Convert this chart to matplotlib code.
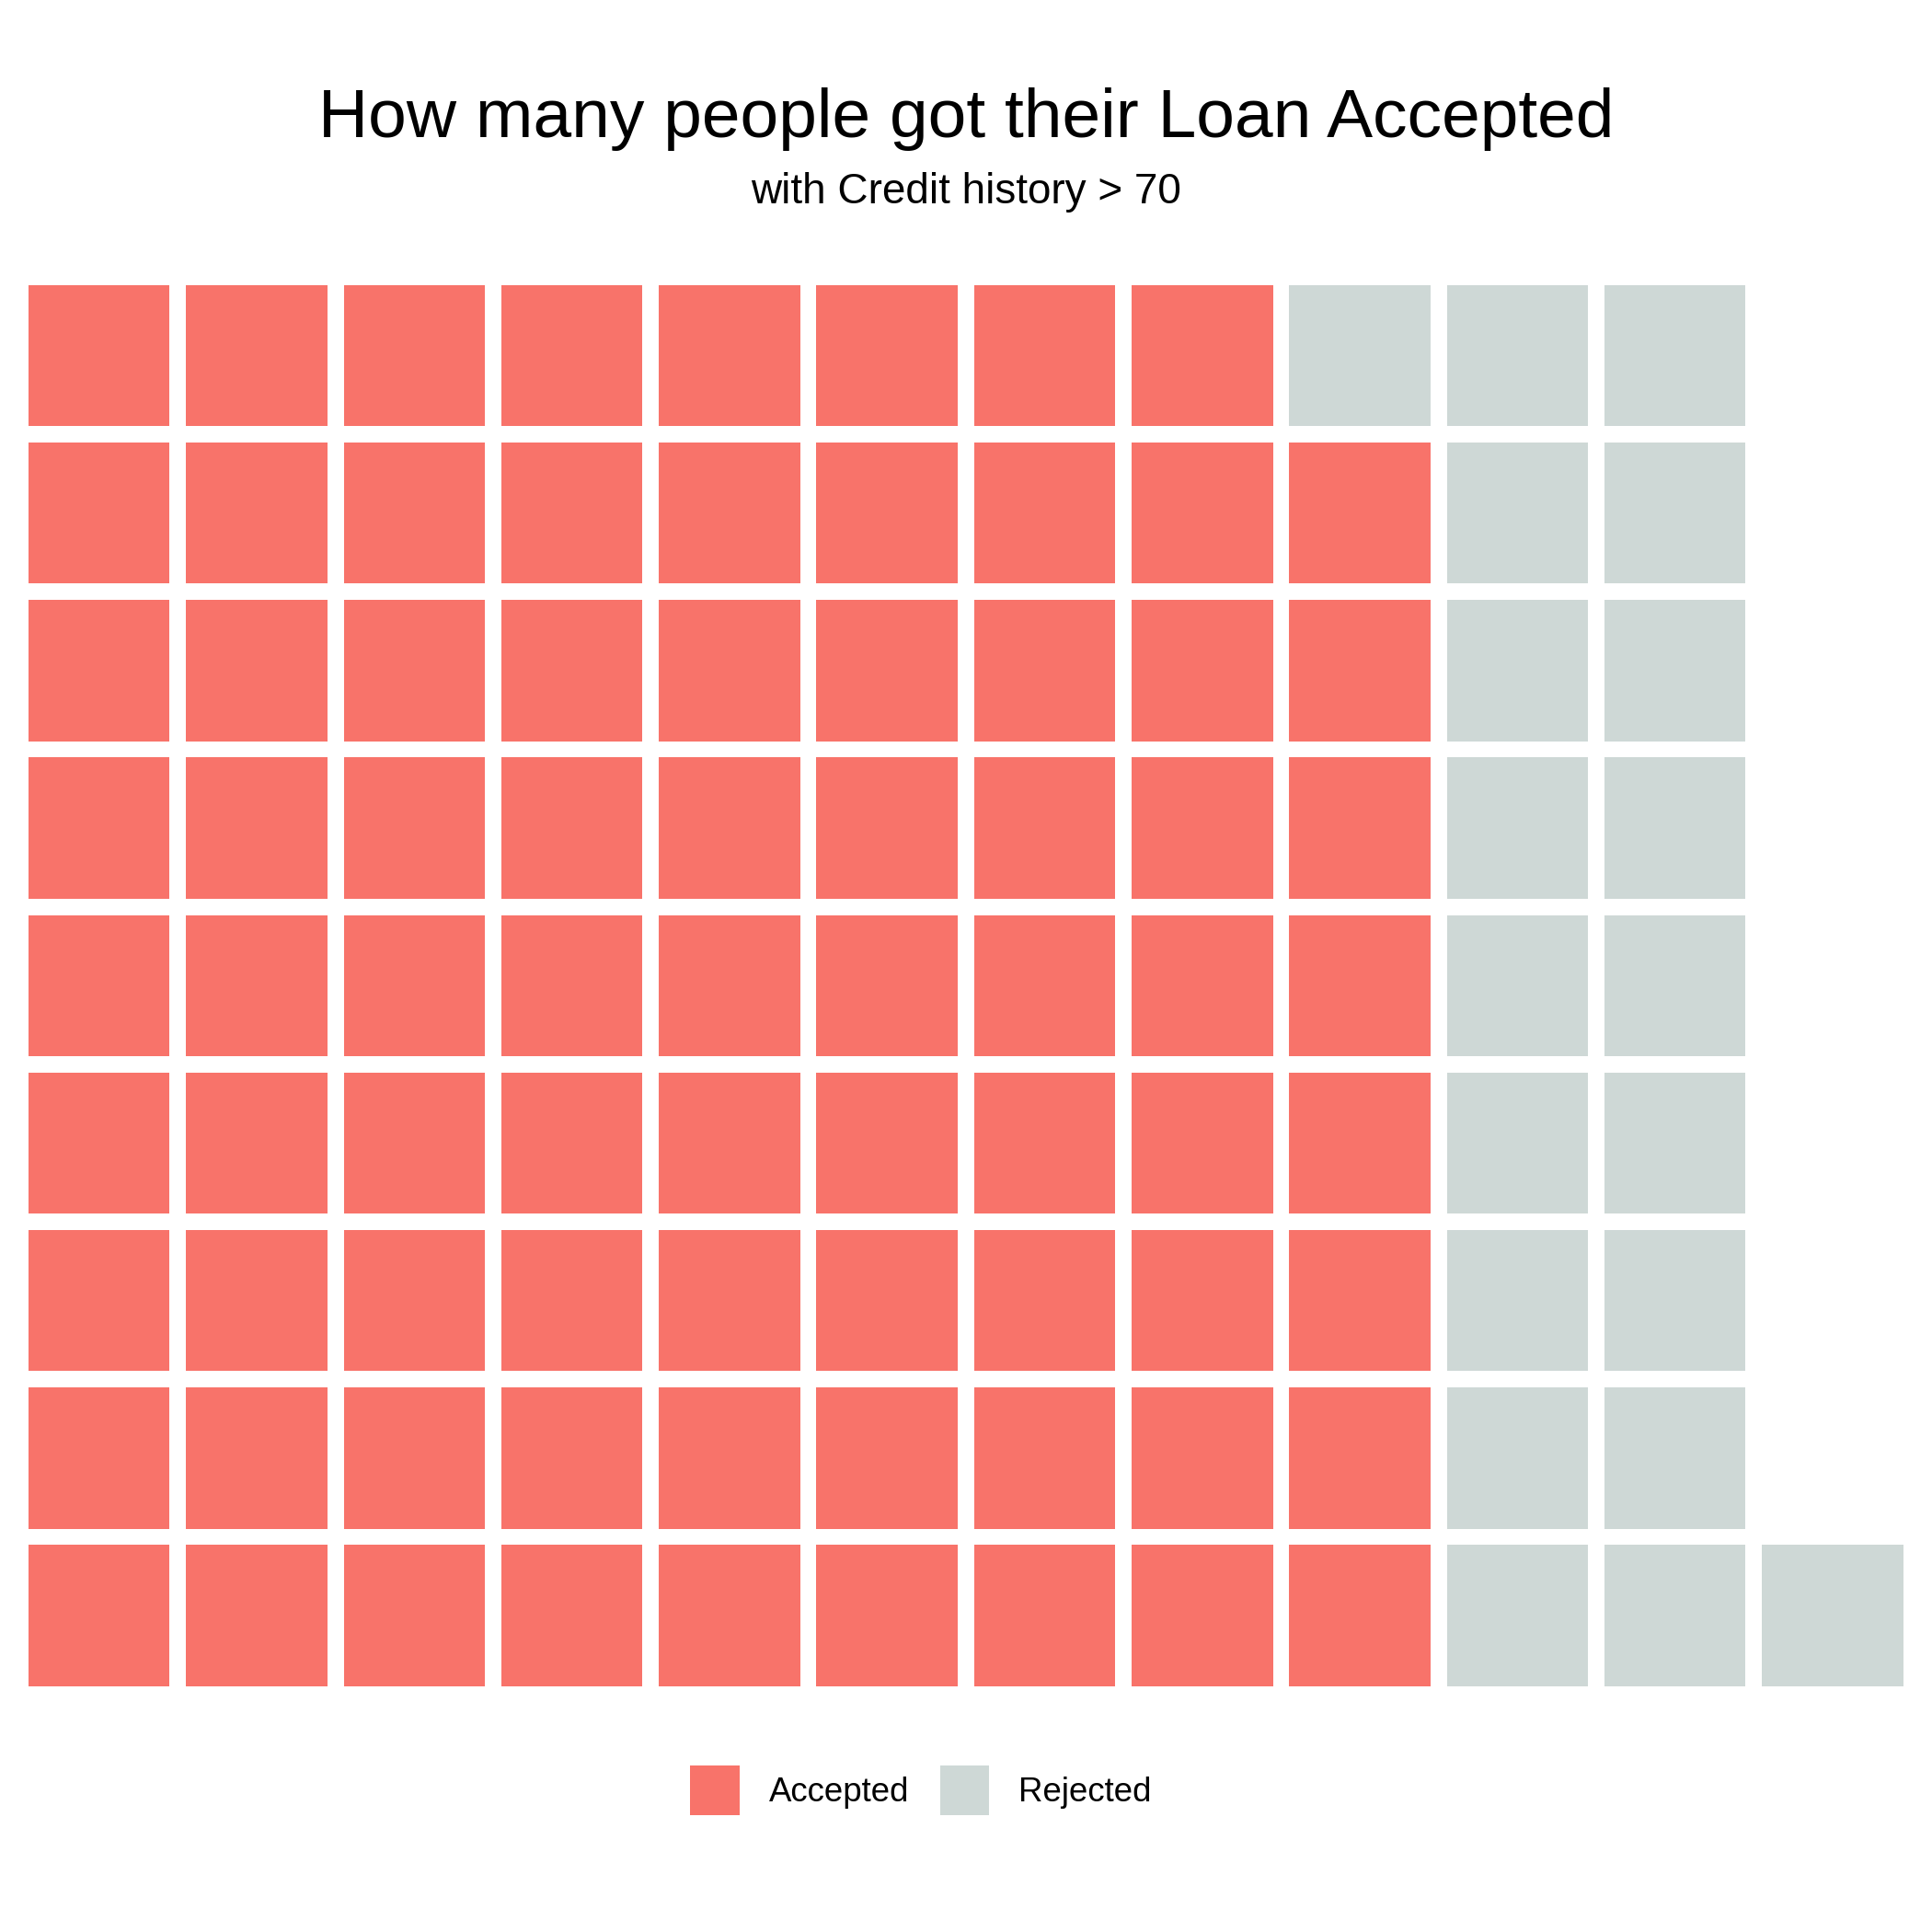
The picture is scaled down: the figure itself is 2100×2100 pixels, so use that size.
import matplotlib
matplotlib.use("Agg")
import matplotlib.pyplot as plt
from matplotlib.patches import Rectangle, Patch

categories = ["Accepted", "Rejected"]
counts = [80, 20]
colors = ["#F8736A", "#CED8D6"]
n_rows = 9

plt.rcParams['font.family'] = ['Liberation Sans', 'DejaVu Sans']

fig = plt.figure(figsize=(7, 7), dpi=300)
ax = fig.add_axes([0.01048, 0.12305, 0.9789, 0.73366])

tile = 0.896
idx = 0
for cat, n, col in zip(categories, counts, colors):
    for _ in range(n):
        c = idx // n_rows
        r = idx % n_rows  # from bottom
        ax.add_patch(Rectangle((c - tile / 2, r + 1 - tile / 2), tile, tile,
                               facecolor=col, edgecolor='none'))
        idx += 1

n_cols = (idx + n_rows - 1) // n_rows
ax.set_xlim(-0.5, n_cols - 0.5)
ax.set_ylim(0.5, n_rows + 0.5)
ax.axis('off')

fig.text(0.5, 1 - 149 / 2100, "How many people got their Loan Accepted",
         ha='center', va='baseline', fontsize=18)
fig.text(0.5, 1 - 220.7 / 2100, "with Credit history > 70",
         ha='center', va='baseline', fontsize=11)

handles = [Patch(facecolor=c, edgecolor='none') for c in colors]
fig.legend(handles, categories, loc='center', bbox_to_anchor=(1001 / 2100, 1 - 1946 / 2100),
           ncol=2, frameon=False, fontsize=8.8, handlelength=1.46, handleheight=1.87,
           handletextpad=0.87, columnspacing=0.92, borderpad=0, borderaxespad=0)

fig.savefig("out.png", dpi=300, facecolor='white')
